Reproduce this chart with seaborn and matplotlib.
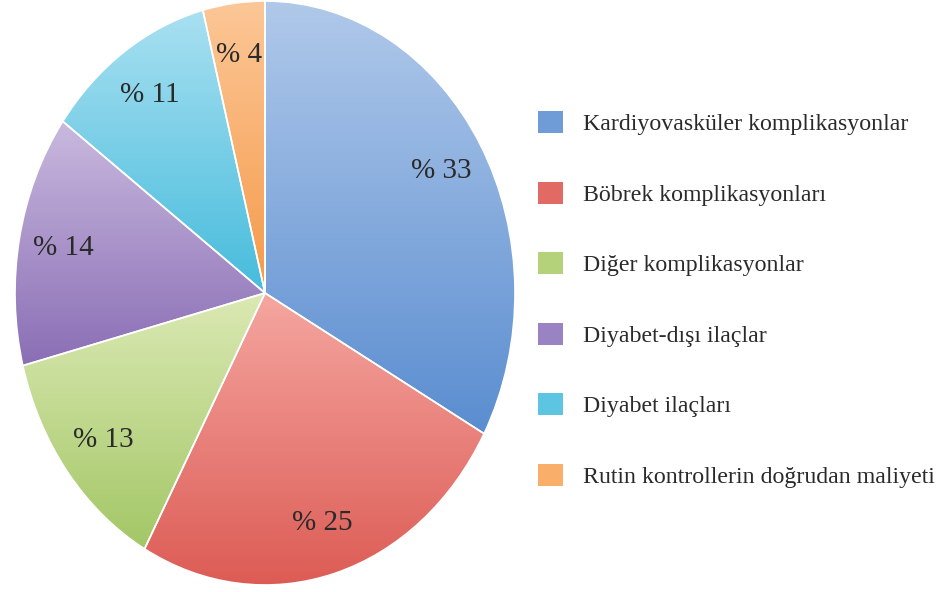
"""
Diyabet maliyet dağılımı - pasta grafiği.
"""
import numpy as np
import matplotlib.pyplot as plt
import matplotlib.colors as mcolors
import seaborn as sns

sns.set_theme(style="white")
plt.rcParams['font.family'] = ['Liberation Serif', 'DejaVu Serif']

categories = ["Kardiyovasküler komplikasyonlar",
              "Böbrek komplikasyonları",
              "Diğer komplikasyonlar",
              "Diyabet-dışı ilaçlar",
              "Diyabet ilaçları",
              "Rutin kontrollerin doğrudan maliyeti"]
shares = [33, 25, 13, 14, 11, 4]

# mid colour (legend) and gradient ends for each slice
mid_colors = ["#6f9bd6", "#e26a64", "#b3d27a", "#9a83c2", "#5cc6e2", "#f9ae6a"]
top_colors = ["#b0c9ea", "#f5a6a0", "#dbe9b4", "#c9b9de", "#a9e0f1", "#fcc797"]
bot_colors = ["#5a8dd0", "#dc5c55", "#a3c766", "#8a6eb5", "#46bcdc", "#f59a4a"]

fig = plt.figure(figsize=(9.41, 5.92), dpi=100)
ax = fig.add_axes([15 / 941, 7 / 592, 500 / 941, 584 / 592])

wedges, texts, autotexts = ax.pie(
    shares, colors=mid_colors, startangle=90, counterclock=False,
    autopct=lambda p: f"% {p:.0f}", pctdistance=0.82,
    wedgeprops=dict(edgecolor="white", linewidth=1.2),
    textprops=dict(fontsize=21, color="#2a2a2a"))

grad = np.linspace(0, 1, 256).reshape(-1, 1)
for w, c0, c1 in zip(wedges, top_colors, bot_colors):
    bb = w.get_path().get_extents()
    cmap = mcolors.LinearSegmentedColormap.from_list("g", [c0, c1])
    im = ax.imshow(grad, cmap=cmap, extent=(bb.x0, bb.x1, bb.y0, bb.y1),
                   origin="upper", aspect="auto", zorder=w.get_zorder() + 0.1)
    im.set_clip_path(w)
    w.set_facecolor("none")
    w.set_zorder(w.get_zorder() + 0.2)
for t in autotexts:
    t.set_zorder(5)

ax.set_aspect("auto")
ax.set_xlim(-1, 1)
ax.set_ylim(-1, 1)
ax.axis("off")

handles = [plt.Rectangle((0, 0), 1, 1, facecolor=c, edgecolor="none")
           for c in mid_colors]
fig.legend(handles, categories, loc="center left",
           bbox_to_anchor=(538 / 941, 1 - 299.5 / 592),
           frameon=False, fontsize=17.2, handlelength=1.05, handleheight=1.05,
           handletextpad=0.85, labelspacing=1.94, borderpad=0, borderaxespad=0,
           labelcolor="#2a2a2a")

fig.savefig("out.png", dpi=100)
